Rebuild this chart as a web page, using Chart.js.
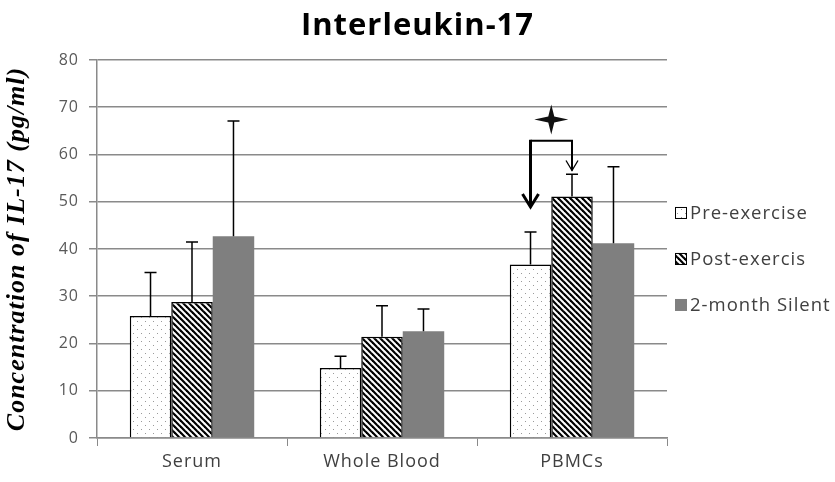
<!DOCTYPE html>
<html>
<head>
<meta charset="utf-8">
<script src="https://cdn.jsdelivr.net/npm/chart.js@4/dist/chart.umd.min.js"></script>
<style>
  html, body { margin: 0; padding: 0; background: #fff; }
  #wrap { width: 835px; height: 482px; }
</style>
</head>
<body>
<div id="wrap"><canvas id="il17Chart" width="835" height="482"></canvas></div>
<script>
const categories = ["Serum", "Whole Blood", "PBMCs"];
const seriesNames = ["Pre-exercise", "Post-exercis", "2-month Silent"];

const preValues = [25.8, 14.8, 36.7];
const postValues = [28.8, 21.4, 51.1];
const silentValues = [42.7, 22.6, 41.2];

// upper error bar length
const preErrors = [9.2, 2.5, 6.9];
const postErrors = [12.7, 6.6, 4.7];
const silentErrors = [24.4, 4.7, 16.2];

const yMin = 0;
const yMax = 80;
const yStep = 10;

// significance marker levels (PBMCs pre vs post)
const bracketLevel = 62.9;
const preArrowTip = 48.9;
const postArrowTip = 56.6;
const starLevel = 67.4;

const textFont = "'Open Sans', 'DejaVu Sans', sans-serif";

function makeDots() {
    const c = document.createElement("canvas");
    c.width = 8;
    c.height = 8;
    const g = c.getContext("2d");
    g.fillStyle = "#ffffff";
    g.fillRect(0, 0, 8, 8);
    g.fillStyle = "#9a9a9a";
    g.fillRect(1, 1, 1, 1);
    g.fillRect(5, 5, 1, 1);
    return g.createPattern(c, "repeat");
}

function makeStripes() {
    const c = document.createElement("canvas");
    c.width = 6;
    c.height = 6;
    const g = c.getContext("2d");
    g.fillStyle = "#ffffff";
    g.fillRect(0, 0, 6, 6);
    g.strokeStyle = "#000000";
    g.lineWidth = 2.2;
    [-6, 0, 6].forEach((x0) => {
        g.beginPath();
        g.moveTo(x0 - 1, -1);
        g.lineTo(x0 + 7, 7);
        g.stroke();
    });
    return g.createPattern(c, "repeat");
}

// the old office text is spaced out, widen all canvas text a bit
const spacing = {
    id: "spacing",
    beforeUpdate(chart) {
        chart.ctx.letterSpacing = "1px";
    },
    beforeDraw(chart) {
        chart.ctx.letterSpacing = "1px";
    },
};

const errorBars = {
    id: "errorBars",
    afterDatasetsDraw(chart) {
        const ctx = chart.ctx;
        const y = chart.scales.y;
        const errs = [preErrors, postErrors, silentErrors];
        ctx.save();
        ctx.strokeStyle = "#000";
        ctx.lineWidth = 1.5;
        chart.data.datasets.forEach((ds, i) => {
            chart.getDatasetMeta(i).data.forEach((bar, j) => {
                const top = y.getPixelForValue(ds.data[j] + errs[i][j]);
                ctx.beginPath();
                ctx.moveTo(bar.x, bar.y);
                ctx.lineTo(bar.x, top);
                ctx.moveTo(bar.x - 6, top);
                ctx.lineTo(bar.x + 6, top);
                ctx.stroke();
            });
        });
        ctx.restore();
    },
};

const significance = {
    id: "significance",
    afterDatasetsDraw(chart) {
        const ctx = chart.ctx;
        const y = chart.scales.y;
        const xa = chart.getDatasetMeta(0).data[2].x;
        const xb = chart.getDatasetMeta(1).data[2].x;
        const yb = y.getPixelForValue(bracketLevel);
        const ta = y.getPixelForValue(preArrowTip);
        const tb = y.getPixelForValue(postArrowTip);
        const ys = y.getPixelForValue(starLevel);
        const xs = (xa + xb) / 2;
        ctx.save();
        ctx.strokeStyle = "#000";
        ctx.lineCap = "butt";
        ctx.lineWidth = 2;
        ctx.beginPath();
        ctx.moveTo(xa, yb);
        ctx.lineTo(xb, yb);
        ctx.lineTo(xb, tb);
        ctx.stroke();
        ctx.lineWidth = 1.3;
        ctx.beginPath();
        ctx.moveTo(xb - 6, tb - 10);
        ctx.lineTo(xb, tb);
        ctx.lineTo(xb + 6, tb - 10);
        ctx.stroke();
        ctx.lineWidth = 3;
        ctx.beginPath();
        ctx.moveTo(xa, yb - 1);
        ctx.lineTo(xa, ta);
        ctx.stroke();
        ctx.beginPath();
        ctx.moveTo(xa - 8, ta - 13);
        ctx.lineTo(xa, ta);
        ctx.lineTo(xa + 8, ta - 13);
        ctx.stroke();
        // four pointed star
        ctx.fillStyle = "#111";
        ctx.beginPath();
        ctx.moveTo(xs, ys - 15);
        ctx.lineTo(xs + 3, ys - 3);
        ctx.lineTo(xs + 17, ys);
        ctx.lineTo(xs + 3, ys + 3);
        ctx.lineTo(xs, ys + 15);
        ctx.lineTo(xs - 3, ys + 3);
        ctx.lineTo(xs - 17, ys);
        ctx.lineTo(xs - 3, ys - 3);
        ctx.closePath();
        ctx.fill();
        ctx.restore();
    },
};

// legend drawn by hand so it sits where the original one is
const sideLegend = {
    id: "sideLegend",
    afterDraw(chart) {
        const ctx = chart.ctx;
        const left = chart.chartArea.right + 8;
        const mid = (chart.chartArea.top + chart.chartArea.bottom) / 2 + 10;
        const gap = 46;
        ctx.save();
        ctx.letterSpacing = "1px";
        ctx.font = "18.5px " + textFont;
        ctx.textBaseline = "middle";
        ctx.textAlign = "left";
        chart.data.datasets.forEach((ds, i) => {
            const cy = mid + (i - 1) * gap;
            ctx.fillStyle = ds.backgroundColor;
            ctx.fillRect(left, cy - 6, 12, 12);
            if (ds.borderWidth) {
                ctx.strokeStyle = "#000";
                ctx.lineWidth = 1;
                ctx.strokeRect(left + 0.5, cy - 5.5, 11, 11);
            }
            ctx.fillStyle = "#404040";
            ctx.fillText(ds.label, left + 15, cy + 1);
        });
        ctx.restore();
    },
};

const ctx = document.getElementById("il17Chart").getContext("2d");

new Chart(ctx, {
    type: "bar",
    data: {
        labels: categories,
        datasets: [
            {
                label: seriesNames[0],
                data: preValues,
                backgroundColor: makeDots(),
                borderColor: "#000",
                borderWidth: 1.5,
            },
            {
                label: seriesNames[1],
                data: postValues,
                backgroundColor: makeStripes(),
                borderColor: "#000",
                borderWidth: 1.5,
            },
            {
                label: seriesNames[2],
                data: silentValues,
                backgroundColor: "#7f7f7f",
                borderColor: "#7f7f7f",
                borderWidth: 0,
            },
        ],
    },
    options: {
        responsive: false,
        animation: false,
        devicePixelRatio: 1,
        layout: { padding: 0 },
        datasets: {
            bar: { categoryPercentage: 0.655, barPercentage: 1 },
        },
        scales: {
            x: {
                grid: {
                    offset: true,
                    drawOnChartArea: false,
                    drawTicks: true,
                    tickLength: 8,
                    color: "#8a8a8a",
                },
                border: { color: "#8a8a8a", width: 1.5 },
                ticks: {
                    color: "#404040",
                    padding: 5,
                    font: { family: textFont, size: 18 },
                },
                afterFit(scale) {
                    scale.height = 44;
                },
            },
            y: {
                min: yMin,
                max: yMax,
                ticks: {
                    stepSize: yStep,
                    color: "#595959",
                    padding: 10,
                    font: { family: textFont, size: 16 },
                },
                grid: {
                    color: "#8a8a8a",
                    lineWidth: 1.5,
                    tickLength: 8,
                },
                border: { color: "#8a8a8a", width: 1.5 },
                title: {
                    display: true,
                    text: "Concentration of IL-17 (pg/ml)",
                    color: "#000",
                    padding: { top: 2, bottom: 0 },
                    font: {
                        family: "'Liberation Serif', 'DejaVu Serif', serif",
                        size: 26,
                        weight: "bold",
                        style: "italic",
                        lineHeight: 1.15,
                    },
                },
                afterFit(scale) {
                    scale.width = 97;
                },
            },
            // empty right-hand axis, only keeps room for the legend
            legendRoom: {
                type: "linear",
                position: "right",
                grid: { display: false },
                border: { display: false },
                ticks: { display: false },
                afterFit(scale) {
                    scale.width = 168;
                },
            },
        },
        plugins: {
            title: {
                display: true,
                text: "Interleukin-17",
                color: "#000",
                padding: { top: 8, bottom: 16 },
                font: { family: textFont, size: 31, weight: "bold", lineHeight: 1.16 },
            },
            legend: { display: false },
            tooltip: { enabled: false },
        },
    },
    plugins: [spacing, errorBars, significance, sideLegend],
});
</script>
</body>
</html>
